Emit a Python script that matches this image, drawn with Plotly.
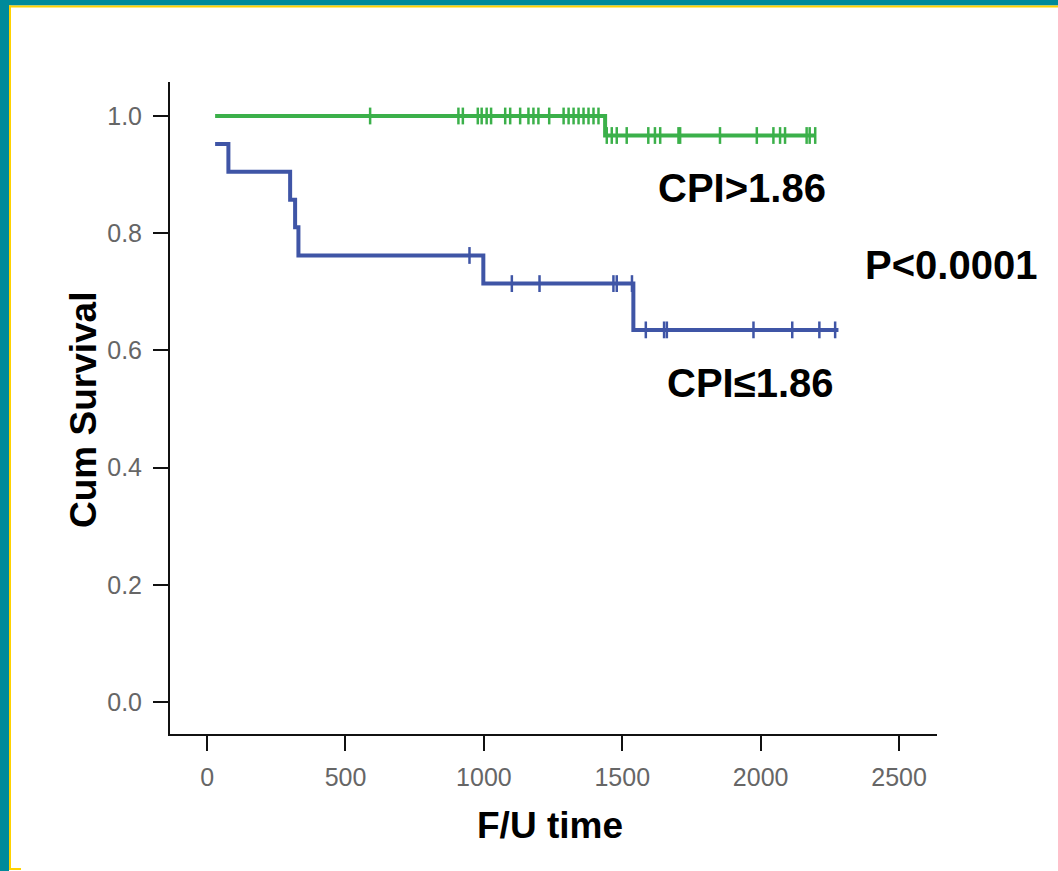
import numpy as np
import plotly.graph_objects as go

# ---- data ----
green_time = [29, 1438, 2197]
green_surv = [1.0, 0.9667, 0.9667]
green_censor = [589, 908, 924, 978, 992, 1010, 1026, 1077, 1095, 1131, 1161, 1179,
                1197, 1236, 1288, 1306, 1324, 1342, 1360, 1378, 1396, 1414,
                1444, 1462, 1480, 1516, 1594, 1618, 1637, 1703, 1709, 1853,
                1986, 2046, 2070, 2088, 2166, 2177, 2197]

blue_time = [29, 77, 300, 318, 330, 998, 1540, 2281]
blue_surv = [0.952, 0.905, 0.857, 0.810, 0.762, 0.714, 0.635, 0.635]
blue_censor = [948, 1101, 1201, 1468, 1480, 1535, 1585, 1651, 1661, 1974,
               2114, 2212, 2269]

x_ticks = [0, 500, 1000, 1500, 2000, 2500]
y_ticks = [0.0, 0.2, 0.4, 0.6, 0.8, 1.0]

GREEN = "#3BB04A"
BLUE = "#3F55A6"
TEAL = "#008A9A"
YELLOW = "#FFD200"


def step_at(times, surv, t):
    idx = np.searchsorted(np.asarray(times), t, side="right") - 1
    return np.asarray(surv)[np.clip(idx, 0, len(surv) - 1)]


fig = go.Figure()
for times, surv, cens, col in [(green_time, green_surv, green_censor, GREEN),
                               (blue_time, blue_surv, blue_censor, BLUE)]:
    fig.add_trace(go.Scatter(x=times, y=surv, mode="lines", line_shape="hv",
                             line=dict(color=col, width=4), showlegend=False,
                             hoverinfo="skip"))
    fig.add_trace(go.Scatter(x=cens, y=step_at(times, surv, cens), mode="markers",
                             marker=dict(symbol="line-ns", size=12,
                                         line=dict(color=col, width=2.5)),
                             showlegend=False, hoverinfo="skip"))

# pixel layout
L, R, T, B = 170, 937, 82, 734
W, H = 1058, 871
pw, ph = R - L, B - T


def px(p):
    return (p - L) / pw


def py(p):
    return (B - p) / ph


FONT = "Liberation Sans, Arial, sans-serif"

fig.update_layout(
    width=W, height=H,
    margin=dict(l=L, r=W - R, t=T, b=H - B, pad=0),
    paper_bgcolor="white", plot_bgcolor="white",
    font=dict(family=FONT, color="#000"),
    xaxis=dict(range=[-134, 2637], tickvals=x_ticks, showgrid=False, zeroline=False,
               showline=True, linecolor="#111", linewidth=2,
               ticks="outside", ticklen=15, tickwidth=2, tickcolor="#111",
               tickfont=dict(family=FONT, size=25, color="#666"),
               ticklabelstandoff=5),
    yaxis=dict(range=[-0.0546, 1.058], tickvals=y_ticks, tickformat=".1f",
               showgrid=False, zeroline=False,
               showline=True, linecolor="#111", linewidth=2,
               ticks="outside", ticklen=15, tickwidth=2, tickcolor="#111",
               tickfont=dict(family=FONT, size=25, color="#666"),
               ticklabelstandoff=6),
)

ann_font = dict(family=FONT, size=40, color="#000")
title_font = dict(family=FONT, size=37, color="#000")
annotations = [
    dict(text="<b>CPI>1.86</b>", x=px(742), y=py(188), font=ann_font),
    dict(text="<b>P<0.0001</b>", x=px(951), y=py(265), font=ann_font),
    dict(text="<b>CPI≤1.86</b>", x=px(750), y=py(383), font=ann_font),
    dict(text="<b>F/U time</b>", x=px(550), y=py(825), font=title_font),
]
for a in annotations:
    fig.add_annotation(xref="paper", yref="paper", showarrow=False,
                       xanchor="center", yanchor="middle", **a)
fig.add_annotation(xref="paper", yref="paper", showarrow=False, textangle=-90,
                   text="<b>Cum Survival</b>", x=px(83), y=py(410),
                   xanchor="center", yanchor="middle", font=title_font)

# frame (teal + yellow) around the slide edge
shapes = [
    dict(x0=px(0), x1=px(9), y0=py(0), y1=py(H), fillcolor=TEAL),
    dict(x0=px(0), x1=px(W), y0=py(0), y1=py(5.5), fillcolor=TEAL),
    dict(x0=px(9), x1=px(11), y0=py(5.5), y1=py(870), fillcolor=YELLOW),
    dict(x0=px(9), x1=px(W), y0=py(5.5), y1=py(7.5), fillcolor=YELLOW),
    dict(x0=px(9), x1=px(21), y0=py(868), y1=py(870), fillcolor=YELLOW),
]
for s in shapes:
    fig.add_shape(type="rect", xref="paper", yref="paper", line_width=0,
                  layer="above", **s)

fig.write_html("out.html", config={"displayModeBar": False},
               post_script="document.body.style.margin='0';"
                           "document.body.style.overflow='hidden';")
